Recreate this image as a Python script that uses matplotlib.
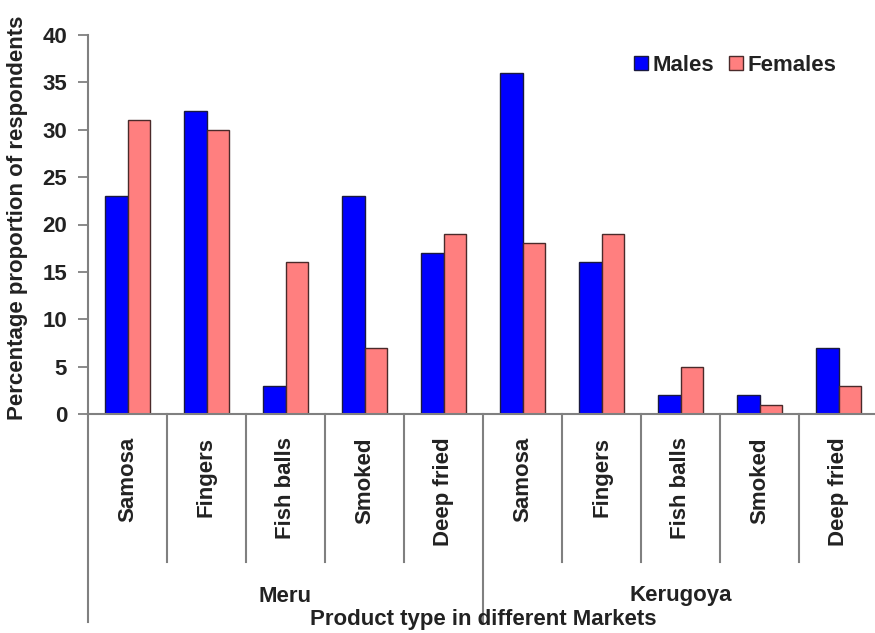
import matplotlib
matplotlib.use("Agg")
import matplotlib.pyplot as plt
import matplotlib.transforms as mtransforms
from matplotlib.patches import Patch

# Data
markets = ["Meru", "Kerugoya"]
products = ["Samosa", "Fingers", "Fish balls", "Smoked", "Deep fried"]
males = [23, 32, 3, 23, 17, 36, 16, 2, 2, 7]
females = [31, 30, 16, 7, 19, 18, 19, 5, 1, 3]
y_ticks = [0, 5, 10, 15, 20, 25, 30, 35, 40]

plt.rcParams['font.family'] = ['Liberation Sans', 'DejaVu Sans']
plt.rcParams['font.weight'] = 'bold'
FS = 16
TXT = '#222222'
AXC = '#808080'

fig = plt.figure(figsize=(8.75, 6.33), dpi=100)
W, H = 875, 633
ax = fig.add_axes([88 / W, 1 - 414 / H, 790 / W, 379 / H])

n = len(males)
bw = 0.29
xs = [i + 0.5 for i in range(n)]
ax.bar([x - bw / 2 for x in xs], males, width=bw, color='#0000FF',
       edgecolor='#1a1a40', linewidth=1, label='Males', zorder=2)
ax.bar([x + bw / 2 for x in xs], females, width=bw, color='#FF7F7F',
       edgecolor='#4a2a2a', linewidth=1, label='Females', zorder=2)

ax.set_xlim(0, n)
ax.set_ylim(0, 40)
ax.set_yticks(y_ticks)
ax.set_xticks([])
ax.tick_params(axis='y', length=7, width=1.3, color=AXC, pad=8,
               labelsize=FS, labelcolor=TXT)
for lab in ax.get_yticklabels():
    lab.set_fontweight('bold')
for s in ['top', 'right']:
    ax.spines[s].set_visible(False)
for s in ['left', 'bottom']:
    ax.spines[s].set_color(AXC)
    ax.spines[s].set_linewidth(1.5)

# multi-level category axis
trans = mtransforms.blended_transform_factory(ax.transData, ax.transAxes)
short_y = -148 / 379
long_y = -208 / 379
for i in range(n + 1):
    yb = long_y if i % len(products) == 0 else short_y
    ax.plot([i, i], [0, yb], color=AXC, lw=1.5, transform=trans, clip_on=False)

for i, x in enumerate(xs):
    ax.text(x, -23 / 379, products[i % len(products)], rotation=90,
            ha='center', va='top', fontsize=FS, fontweight='bold',
            color=TXT, transform=trans)

for k, m in enumerate(markets):
    cx = k * len(products) + len(products) / 2
    ax.text(cx, -182 / 379, m, ha='center', va='center', fontsize=FS,
            fontweight='bold', color=TXT, transform=trans)

ax.text(n / 2, -206 / 379, "Product type in different Markets", ha='center',
        va='center', fontsize=FS, fontweight='bold', color=TXT, transform=trans)

fig.text(18 / W, 1 - 218 / H, "Percentage proportion of respondents",
         rotation=90, ha='center', va='center', fontsize=FS,
         fontweight='bold', color=TXT)

handles = [Patch(facecolor='#0000FF', edgecolor='#1a1a40'),
           Patch(facecolor='#FF7F7F', edgecolor='#4a2a2a')]
fig.legend(handles, ['Males', 'Females'], loc='upper right',
           bbox_to_anchor=(856 / W, 1 - 35 / H), ncol=2, frameon=False,
           handlelength=0.6, handleheight=0.6, handletextpad=0.2,
           columnspacing=0.7, prop={'size': FS, 'weight': 'bold'},
           labelcolor=TXT)

fig.savefig("out.png", dpi=100)
